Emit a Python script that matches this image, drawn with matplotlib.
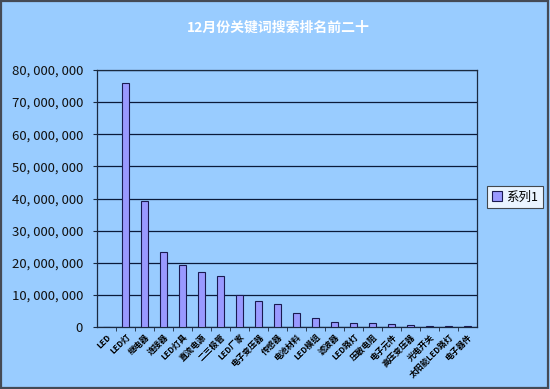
import matplotlib
matplotlib.use("Agg")
import matplotlib.pyplot as plt
from matplotlib.patches import Rectangle
from matplotlib.ticker import FuncFormatter, FixedLocator

plt.rcParams['font.family'] = ['Noto Sans CJK SC', 'DejaVu Sans']

title = "12月份关键词搜索排名前二十"
categories = ["LED", "LED灯", "继电器", "连接器", "LED灯具", "直流电源", "二三极管",
              "LED厂家", "电子变压器", "传感器", "电池材料", "LED模组", "滤波器",
              "LED路灯", "压敏电阻", "电子元件", "高压变压器", "光电开关",
              "太阳能LED路灯", "电子器件"]
values = [0, 75900000, 39100000, 23300000, 19200000, 17200000, 15900000,
          10100000, 8000000, 7200000, 4400000, 2700000, 1600000,
          1350000, 1150000, 950000, 550000, 250000, 200000, 200000]
series_name = "系列1"
yticks = [0, 10000000, 20000000, 30000000, 40000000, 50000000, 60000000, 70000000, 80000000]

bg = "#99CCFF"
fig = plt.figure(figsize=(5.5, 3.89), dpi=100, facecolor=bg)
fig.patches.append(Rectangle((0.002, 0.003), 0.995, 0.994, transform=fig.transFigure,
                             fill=False, edgecolor="#444a55", linewidth=1.6))

ax = fig.add_axes([97/550, 1-327/389, 380/550, 257/389])
ax.set_facecolor(bg)
x = list(range(len(categories)))
bars = ax.bar(x, values, width=0.4, color="#9999FF", edgecolor="#1a1a50",
              linewidth=0.8, label=series_name, zorder=3)
ax.set_xlim(-0.5, len(categories)-0.5)
ax.set_ylim(0, 80000000)
ax.set_yticks(yticks)
ax.yaxis.set_major_formatter(FuncFormatter(lambda v, p: "{:,}".format(int(v)).replace(",", ", ")))
ax.grid(axis='y', color="#0a1a3a", linewidth=0.9, zorder=1)
for s in ax.spines.values():
    s.set_color("#1a2a40")
    s.set_linewidth(0.9)
ax.tick_params(axis='y', labelsize=9.5, length=3, color="#1a2a40", pad=7, labelcolor="#111111")
ax.set_xticks(x)
ax.set_xticklabels(categories, rotation=45, ha='right', va='top', rotation_mode='anchor',
                   fontsize=6, fontweight='bold')
ax.tick_params(axis='x', length=0, pad=4)
ax.xaxis.set_minor_locator(FixedLocator([i + 0.5 for i in range(len(categories)-1)]))
ax.tick_params(axis='x', which='minor', length=3, color="#1a2a40")

fig.text(278/550, 1-28/389, title, color="white", fontsize=10, fontweight='bold',
         ha='center', va='center')

leg = fig.legend(handles=[bars], labels=[series_name], loc='center',
                 bbox_to_anchor=(515/550, 1-197/389), fontsize=9,
                 frameon=True, fancybox=False, edgecolor="#222222",
                 handlelength=0.8, handleheight=0.8, handletextpad=0.4,
                 borderpad=0.35, borderaxespad=0)
leg.get_frame().set_facecolor("white")
leg.get_frame().set_linewidth(0.8)

fig.savefig("out.png", dpi=100, facecolor=bg)
